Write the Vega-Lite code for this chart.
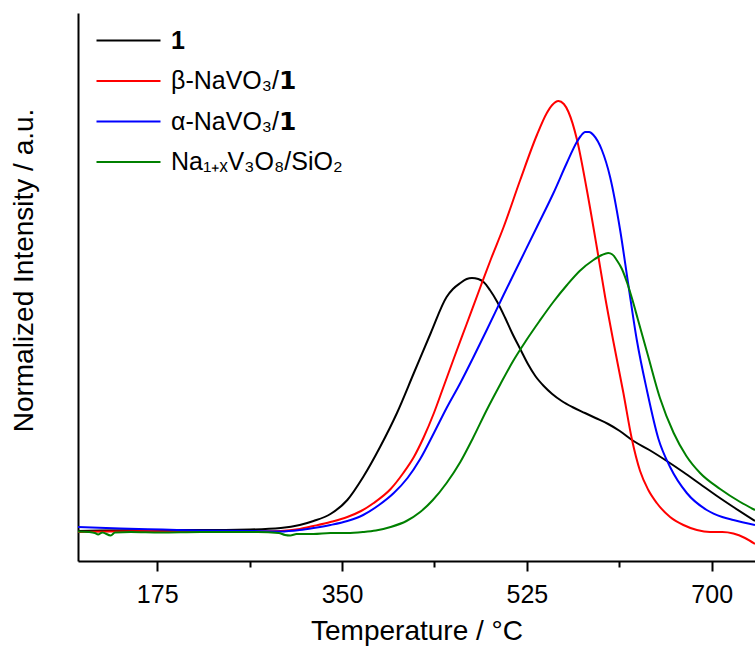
{
  "$schema": "https://vega.github.io/schema/vega-lite/v6.json",
  "autosize": "none",
  "width": 677,
  "height": 548,
  "padding": {"left": 78, "top": 13, "right": 0, "bottom": 94},
  "background": "white",
  "config": {
    "view": {"stroke": null},
    "font": "Liberation Sans"
  },
  "data": {
    "values": [
      {"s": "1", "T": 100, "v": 30}, {"s": "1", "T": 121, "v": 30.5}, {"s": "1", "T": 169, "v": 31}, {"s": "1", "T": 216, "v": 31}, {"s": "1", "T": 263, "v": 31.5}, {"s": "1", "T": 292, "v": 33}, {"s": "1", "T": 310, "v": 36}, {"s": "1", "T": 323, "v": 40}, {"s": "1", "T": 339, "v": 47}, {"s": "1", "T": 355, "v": 61}, {"s": "1", "T": 370, "v": 84}, {"s": "1", "T": 386, "v": 114}, {"s": "1", "T": 402, "v": 148}, {"s": "1", "T": 418, "v": 188}, {"s": "1", "T": 434, "v": 228}, {"s": "1", "T": 449, "v": 264}, {"s": "1", "T": 455, "v": 272}, {"s": "1", "T": 462, "v": 278}, {"s": "1", "T": 468, "v": 282}, {"s": "1", "T": 473, "v": 283}, {"s": "1", "T": 479, "v": 282}, {"s": "1", "T": 484, "v": 279}, {"s": "1", "T": 490, "v": 271}, {"s": "1", "T": 497, "v": 259}, {"s": "1", "T": 504.5, "v": 243}, {"s": "1", "T": 511, "v": 228}, {"s": "1", "T": 518.7, "v": 212}, {"s": "1", "T": 526, "v": 197}, {"s": "1", "T": 533, "v": 185}, {"s": "1", "T": 541, "v": 175}, {"s": "1", "T": 549, "v": 167}, {"s": "1", "T": 558, "v": 160}, {"s": "1", "T": 568, "v": 154}, {"s": "1", "T": 580, "v": 148}, {"s": "1", "T": 590, "v": 143}, {"s": "1", "T": 602, "v": 137}, {"s": "1", "T": 613, "v": 130}, {"s": "1", "T": 626, "v": 120}, {"s": "1", "T": 641, "v": 111}, {"s": "1", "T": 657.5, "v": 100}, {"s": "1", "T": 673, "v": 89}, {"s": "1", "T": 689, "v": 77}, {"s": "1", "T": 705, "v": 65}, {"s": "1", "T": 720.5, "v": 54}, {"s": "1", "T": 741, "v": 40},

      {"s": "β-NaVO₃/𝟭", "T": 100, "v": 29}, {"s": "β-NaVO₃/𝟭", "T": 169, "v": 30}, {"s": "β-NaVO₃/𝟭", "T": 216, "v": 29}, {"s": "β-NaVO₃/𝟭", "T": 263, "v": 29.5}, {"s": "β-NaVO₃/𝟭", "T": 292, "v": 30}, {"s": "β-NaVO₃/𝟭", "T": 310, "v": 32}, {"s": "β-NaVO₃/𝟭", "T": 323, "v": 35}, {"s": "β-NaVO₃/𝟭", "T": 339, "v": 39}, {"s": "β-NaVO₃/𝟭", "T": 355, "v": 44}, {"s": "β-NaVO₃/𝟭", "T": 368, "v": 50}, {"s": "β-NaVO₃/𝟭", "T": 380, "v": 58}, {"s": "β-NaVO₃/𝟭", "T": 396, "v": 72}, {"s": "β-NaVO₃/𝟭", "T": 408, "v": 88}, {"s": "β-NaVO₃/𝟭", "T": 418, "v": 104}, {"s": "β-NaVO₃/𝟭", "T": 427, "v": 123}, {"s": "β-NaVO₃/𝟭", "T": 437, "v": 148}, {"s": "β-NaVO₃/𝟭", "T": 446, "v": 174}, {"s": "β-NaVO₃/𝟭", "T": 456, "v": 203}, {"s": "β-NaVO₃/𝟭", "T": 468, "v": 237}, {"s": "β-NaVO₃/𝟭", "T": 481, "v": 274}, {"s": "β-NaVO₃/𝟭", "T": 491, "v": 302}, {"s": "β-NaVO₃/𝟭", "T": 503, "v": 334}, {"s": "β-NaVO₃/𝟭", "T": 518.7, "v": 381}, {"s": "β-NaVO₃/𝟭", "T": 534.5, "v": 426}, {"s": "β-NaVO₃/𝟭", "T": 543.9, "v": 448}, {"s": "β-NaVO₃/𝟭", "T": 549, "v": 456}, {"s": "β-NaVO₃/𝟭", "T": 554.9, "v": 460}, {"s": "β-NaVO₃/𝟭", "T": 560, "v": 457}, {"s": "β-NaVO₃/𝟭", "T": 564.4, "v": 449}, {"s": "β-NaVO₃/𝟭", "T": 572.3, "v": 422}, {"s": "β-NaVO₃/𝟭", "T": 581.8, "v": 371}, {"s": "β-NaVO₃/𝟭", "T": 591.2, "v": 314}, {"s": "β-NaVO₃/𝟭", "T": 599.1, "v": 264}, {"s": "β-NaVO₃/𝟭", "T": 607, "v": 219}, {"s": "β-NaVO₃/𝟭", "T": 616.4, "v": 168}, {"s": "β-NaVO₃/𝟭", "T": 624.4, "v": 122}, {"s": "β-NaVO₃/𝟭", "T": 632.2, "v": 90}, {"s": "β-NaVO₃/𝟭", "T": 640, "v": 71}, {"s": "β-NaVO₃/𝟭", "T": 648, "v": 58}, {"s": "β-NaVO₃/𝟭", "T": 660.6, "v": 44}, {"s": "β-NaVO₃/𝟭", "T": 673.2, "v": 36}, {"s": "β-NaVO₃/𝟭", "T": 686, "v": 31}, {"s": "β-NaVO₃/𝟭", "T": 698.4, "v": 29}, {"s": "β-NaVO₃/𝟭", "T": 710, "v": 29}, {"s": "β-NaVO₃/𝟭", "T": 720.5, "v": 27.5}, {"s": "β-NaVO₃/𝟭", "T": 731.5, "v": 23}, {"s": "β-NaVO₃/𝟭", "T": 741, "v": 17},

      {"s": "α-NaVO₃/𝟭", "T": 100, "v": 34}, {"s": "α-NaVO₃/𝟭", "T": 140, "v": 32.5}, {"s": "α-NaVO₃/𝟭", "T": 180, "v": 31.5}, {"s": "α-NaVO₃/𝟭", "T": 216, "v": 30.5}, {"s": "α-NaVO₃/𝟭", "T": 263, "v": 30}, {"s": "α-NaVO₃/𝟭", "T": 292, "v": 29.5}, {"s": "α-NaVO₃/𝟭", "T": 310, "v": 31}, {"s": "α-NaVO₃/𝟭", "T": 323, "v": 33}, {"s": "α-NaVO₃/𝟭", "T": 339, "v": 36}, {"s": "α-NaVO₃/𝟭", "T": 355, "v": 40}, {"s": "α-NaVO₃/𝟭", "T": 370, "v": 46}, {"s": "α-NaVO₃/𝟭", "T": 385, "v": 56}, {"s": "α-NaVO₃/𝟭", "T": 399, "v": 68}, {"s": "α-NaVO₃/𝟭", "T": 412, "v": 83}, {"s": "α-NaVO₃/𝟭", "T": 424, "v": 102}, {"s": "α-NaVO₃/𝟭", "T": 437, "v": 128}, {"s": "α-NaVO₃/𝟭", "T": 449, "v": 153}, {"s": "α-NaVO₃/𝟭", "T": 462, "v": 178}, {"s": "α-NaVO₃/𝟭", "T": 474, "v": 203}, {"s": "α-NaVO₃/𝟭", "T": 487, "v": 231}, {"s": "α-NaVO₃/𝟭", "T": 502.9, "v": 266}, {"s": "α-NaVO₃/𝟭", "T": 518.7, "v": 300}, {"s": "α-NaVO₃/𝟭", "T": 534.5, "v": 334}, {"s": "α-NaVO₃/𝟭", "T": 550.2, "v": 368}, {"s": "α-NaVO₃/𝟭", "T": 562.8, "v": 398}, {"s": "α-NaVO₃/𝟭", "T": 572.3, "v": 419}, {"s": "α-NaVO₃/𝟭", "T": 576, "v": 425}, {"s": "α-NaVO₃/𝟭", "T": 580.2, "v": 429}, {"s": "α-NaVO₃/𝟭", "T": 584, "v": 429}, {"s": "α-NaVO₃/𝟭", "T": 588, "v": 426}, {"s": "α-NaVO₃/𝟭", "T": 596, "v": 411}, {"s": "α-NaVO₃/𝟭", "T": 603.8, "v": 384}, {"s": "α-NaVO₃/𝟭", "T": 613.3, "v": 331}, {"s": "α-NaVO₃/𝟭", "T": 621.1, "v": 276}, {"s": "α-NaVO₃/𝟭", "T": 629.1, "v": 221}, {"s": "α-NaVO₃/𝟭", "T": 638.6, "v": 171}, {"s": "α-NaVO₃/𝟭", "T": 649.6, "v": 122}, {"s": "α-NaVO₃/𝟭", "T": 660.6, "v": 94}, {"s": "α-NaVO₃/𝟭", "T": 676.4, "v": 68}, {"s": "α-NaVO₃/𝟭", "T": 695.3, "v": 51}, {"s": "α-NaVO₃/𝟭", "T": 710, "v": 44}, {"s": "α-NaVO₃/𝟭", "T": 720.5, "v": 41}, {"s": "α-NaVO₃/𝟭", "T": 741, "v": 36},

      {"s": "Na₁₊ₓV₃O₈/SiO₂", "T": 100, "v": 29.5}, {"s": "Na₁₊ₓV₃O₈/SiO₂", "T": 110, "v": 29}, {"s": "Na₁₊ₓV₃O₈/SiO₂", "T": 116, "v": 28}, {"s": "Na₁₊ₓV₃O₈/SiO₂", "T": 119, "v": 26.5}, {"s": "Na₁₊ₓV₃O₈/SiO₂", "T": 123, "v": 28.5}, {"s": "Na₁₊ₓV₃O₈/SiO₂", "T": 131, "v": 25.5}, {"s": "Na₁₊ₓV₃O₈/SiO₂", "T": 135, "v": 28.5}, {"s": "Na₁₊ₓV₃O₈/SiO₂", "T": 150, "v": 29}, {"s": "Na₁₊ₓV₃O₈/SiO₂", "T": 178, "v": 28.5}, {"s": "Na₁₊ₓV₃O₈/SiO₂", "T": 216, "v": 29}, {"s": "Na₁₊ₓV₃O₈/SiO₂", "T": 245, "v": 29}, {"s": "Na₁₊ₓV₃O₈/SiO₂", "T": 270, "v": 29}, {"s": "Na₁₊ₓV₃O₈/SiO₂", "T": 290, "v": 28}, {"s": "Na₁₊ₓV₃O₈/SiO₂", "T": 296, "v": 26}, {"s": "Na₁₊ₓV₃O₈/SiO₂", "T": 301, "v": 25.5}, {"s": "Na₁₊ₓV₃O₈/SiO₂", "T": 307, "v": 27}, {"s": "Na₁₊ₓV₃O₈/SiO₂", "T": 323, "v": 27}, {"s": "Na₁₊ₓV₃O₈/SiO₂", "T": 339, "v": 28}, {"s": "Na₁₊ₓV₃O₈/SiO₂", "T": 355, "v": 28}, {"s": "Na₁₊ₓV₃O₈/SiO₂", "T": 370, "v": 29}, {"s": "Na₁₊ₓV₃O₈/SiO₂", "T": 382, "v": 30.5}, {"s": "Na₁₊ₓV₃O₈/SiO₂", "T": 396, "v": 34}, {"s": "Na₁₊ₓV₃O₈/SiO₂", "T": 411, "v": 40}, {"s": "Na₁₊ₓV₃O₈/SiO₂", "T": 424, "v": 49}, {"s": "Na₁₊ₓV₃O₈/SiO₂", "T": 436, "v": 61}, {"s": "Na₁₊ₓV₃O₈/SiO₂", "T": 449, "v": 78}, {"s": "Na₁₊ₓV₃O₈/SiO₂", "T": 462, "v": 99}, {"s": "Na₁₊ₓV₃O₈/SiO₂", "T": 474, "v": 123}, {"s": "Na₁₊ₓV₃O₈/SiO₂", "T": 487, "v": 151}, {"s": "Na₁₊ₓV₃O₈/SiO₂", "T": 500, "v": 177}, {"s": "Na₁₊ₓV₃O₈/SiO₂", "T": 512, "v": 200}, {"s": "Na₁₊ₓV₃O₈/SiO₂", "T": 524, "v": 220}, {"s": "Na₁₊ₓV₃O₈/SiO₂", "T": 537, "v": 240}, {"s": "Na₁₊ₓV₃O₈/SiO₂", "T": 550, "v": 259}, {"s": "Na₁₊ₓV₃O₈/SiO₂", "T": 563, "v": 276}, {"s": "Na₁₊ₓV₃O₈/SiO₂", "T": 575, "v": 290}, {"s": "Na₁₊ₓV₃O₈/SiO₂", "T": 588, "v": 301}, {"s": "Na₁₊ₓV₃O₈/SiO₂", "T": 596, "v": 306}, {"s": "Na₁₊ₓV₃O₈/SiO₂", "T": 602, "v": 308}, {"s": "Na₁₊ₓV₃O₈/SiO₂", "T": 606, "v": 306.5}, {"s": "Na₁₊ₓV₃O₈/SiO₂", "T": 610, "v": 301}, {"s": "Na₁₊ₓV₃O₈/SiO₂", "T": 615, "v": 292}, {"s": "Na₁₊ₓV₃O₈/SiO₂", "T": 620, "v": 278}, {"s": "Na₁₊ₓV₃O₈/SiO₂", "T": 625, "v": 261}, {"s": "Na₁₊ₓV₃O₈/SiO₂", "T": 630, "v": 242}, {"s": "Na₁₊ₓV₃O₈/SiO₂", "T": 639, "v": 208}, {"s": "Na₁₊ₓV₃O₈/SiO₂", "T": 651, "v": 163}, {"s": "Na₁₊ₓV₃O₈/SiO₂", "T": 664, "v": 128}, {"s": "Na₁₊ₓV₃O₈/SiO₂", "T": 676, "v": 105}, {"s": "Na₁₊ₓV₃O₈/SiO₂", "T": 689, "v": 88}, {"s": "Na₁₊ₓV₃O₈/SiO₂", "T": 708, "v": 72}, {"s": "Na₁₊ₓV₃O₈/SiO₂", "T": 727, "v": 59}, {"s": "Na₁₊ₓV₃O₈/SiO₂", "T": 741, "v": 51}
    ]
  },
  "mark": {"type": "line", "strokeWidth": 2, "clip": true, "interpolate": "monotone"},
  "encoding": {
    "x": {
      "field": "T", "type": "quantitative",
      "scale": {"domain": [100, 741], "nice": false, "zero": false},
      "axis": {
        "title": "Temperature / °C",
        "titleFont": "Liberation Sans", "titleFontSize": 28, "titleFontWeight": "normal", "titleColor": "#000", "titlePadding": 10,
        "values": [175, 262.5, 350, 437.5, 525, 612.5, 700],
        "labelExpr": "datum.value % 175 === 0 ? format(datum.value, 'd') : ''",
        "labelFont": "Liberation Sans", "labelFontSize": 25, "labelColor": "#000", "labelPadding": 11,
        "labelFlush": false, "labelOverlap": false,
        "tickColor": "#000", "tickWidth": 2,
        "tickSize": {"condition": {"test": "datum.value % 175 === 0", "value": 10}, "value": 6},
        "domainColor": "#000", "domainWidth": 2,
        "grid": false
      }
    },
    "y": {
      "field": "v", "type": "quantitative",
      "scale": {"domain": [0, 548], "nice": false, "zero": false},
      "axis": {
        "title": "Normalized Intensity / a.u.",
        "titleFont": "Liberation Sans", "titleFontSize": 28, "titleFontWeight": "normal", "titleColor": "#000",
        "titlePadding": 40, "titleY": 257,
        "labels": false, "ticks": false, "grid": false,
        "domainColor": "#000", "domainWidth": 2
      }
    },
    "color": {
      "field": "s", "type": "nominal",
      "scale": {
        "domain": ["1", "β-NaVO₃/𝟭", "α-NaVO₃/𝟭", "Na₁₊ₓV₃O₈/SiO₂"],
        "range": ["#000000", "#ff0000", "#0000ff", "#008000"]
      },
      "legend": {
        "title": null,
        "orient": "none", "legendX": 38, "legendY": 15,
        "symbolType": "M-8,0H8", "symbolSize": 64, "symbolStrokeWidth": 2,
        "labelFont": "Liberation Sans", "labelFontSize": 25, "labelColor": "#000", "labelLimit": 400,
        "labelOffset": 30, "rowPadding": 14.5, "padding": 0,
        "encode": {"labels": {"update": {"fontWeight": {"signal": "datum.label === '1' ? 'bold' : 'normal'"}}}}
      }
    }
  }
}
